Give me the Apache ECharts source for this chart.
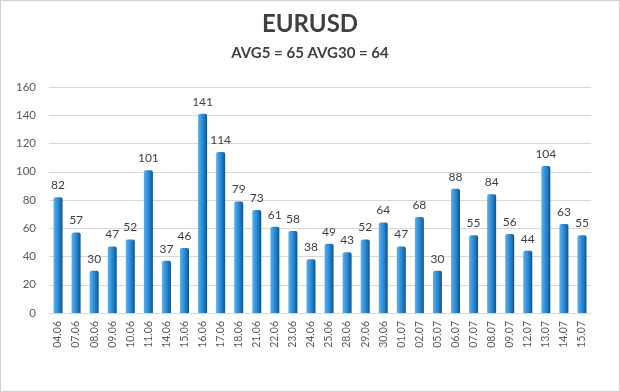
<!DOCTYPE html>
<html>
<head>
<meta charset="utf-8">
<script src="https://cdn.jsdelivr.net/npm/echarts@6/dist/echarts.min.js"></script>
<style>
html,body{margin:0;padding:0;background:#fff;}
#frame{position:absolute;left:0;top:0;width:618px;height:390px;border:1px solid #d0d0d0;}
#c{position:absolute;left:0;top:0;width:620px;height:392px;}
</style>
</head>
<body>
<div id="frame"></div>
<div id="c"></div>
<script>
var categories = ["04.06","07.06","08.06","09.06","10.06","11.06","14.06","15.06","16.06","17.06","18.06","21.06","22.06","23.06","24.06","25.06","28.06","29.06","30.06","01.07","02.07","05.07","06.07","07.07","08.07","09.07","12.07","13.07","14.07","15.07"];
var values = [82,57,30,47,52,101,37,46,141,114,79,73,61,58,38,49,43,52,64,47,68,30,88,55,84,56,44,104,63,55];
var yTicks = [0,20,40,60,80,100,120,140,160];
var titleText = "EURUSD";
var subtitleText = "AVG5 = 65 AVG30 = 64";

var chart = echarts.init(document.getElementById('c'), null, {renderer:'canvas'});
var font = "Lato, 'Open Sans', sans-serif";
chart.setOption({
  backgroundColor: 'transparent',
  animation: false,
  title: [
    {text: titleText, left: 'center', top: 7, textStyle:{fontFamily: font, fontSize: 24, fontWeight:'bold', color:'#404040'}},
    {text: subtitleText, left: 'center', top: 41, textStyle:{fontFamily: font, fontSize: 15, fontWeight:'bold', color:'#404040'}}
  ],
  grid: {left: 49, right: 29, top: 87, bottom: 79},
  xAxis: {
    type: 'category',
    data: categories,
    axisLine: {show: true, lineStyle:{color:'#d9d9d9'}},
    axisTick: {show: false},
    axisLabel: {rotate: 90, fontFamily: font, fontSize: 10.5, color:'#595959', margin: 8, interval: 0}
  },
  yAxis: {
    type: 'value',
    min: yTicks[0], max: yTicks[yTicks.length-1], interval: 20,
    axisLine: {show: false},
    axisTick: {show: false},
    splitLine: {lineStyle:{color:'#d9d9d9'}},
    axisLabel: {fontFamily: font, fontSize: 11.5, color:'#595959', margin: 13}
  },
  series: [{
    type: 'bar',
    data: values,
    barWidth: 9,
    itemStyle: {
      color: new echarts.graphic.LinearGradient(0,0,1,0,[
        {offset:0, color:'#5fb0ea'},
        {offset:0.45, color:'#2d8fd8'},
        {offset:0.75, color:'#1a73bd'},
        {offset:1, color:'#0d4f8a'}
      ]),
      borderRadius: [2,2,0,0]
    },
    label: {show: true, position: 'top', distance: 6, fontFamily: font, fontSize: 12, color:'#404040'}
  }]
});
</script>
</body>
</html>
